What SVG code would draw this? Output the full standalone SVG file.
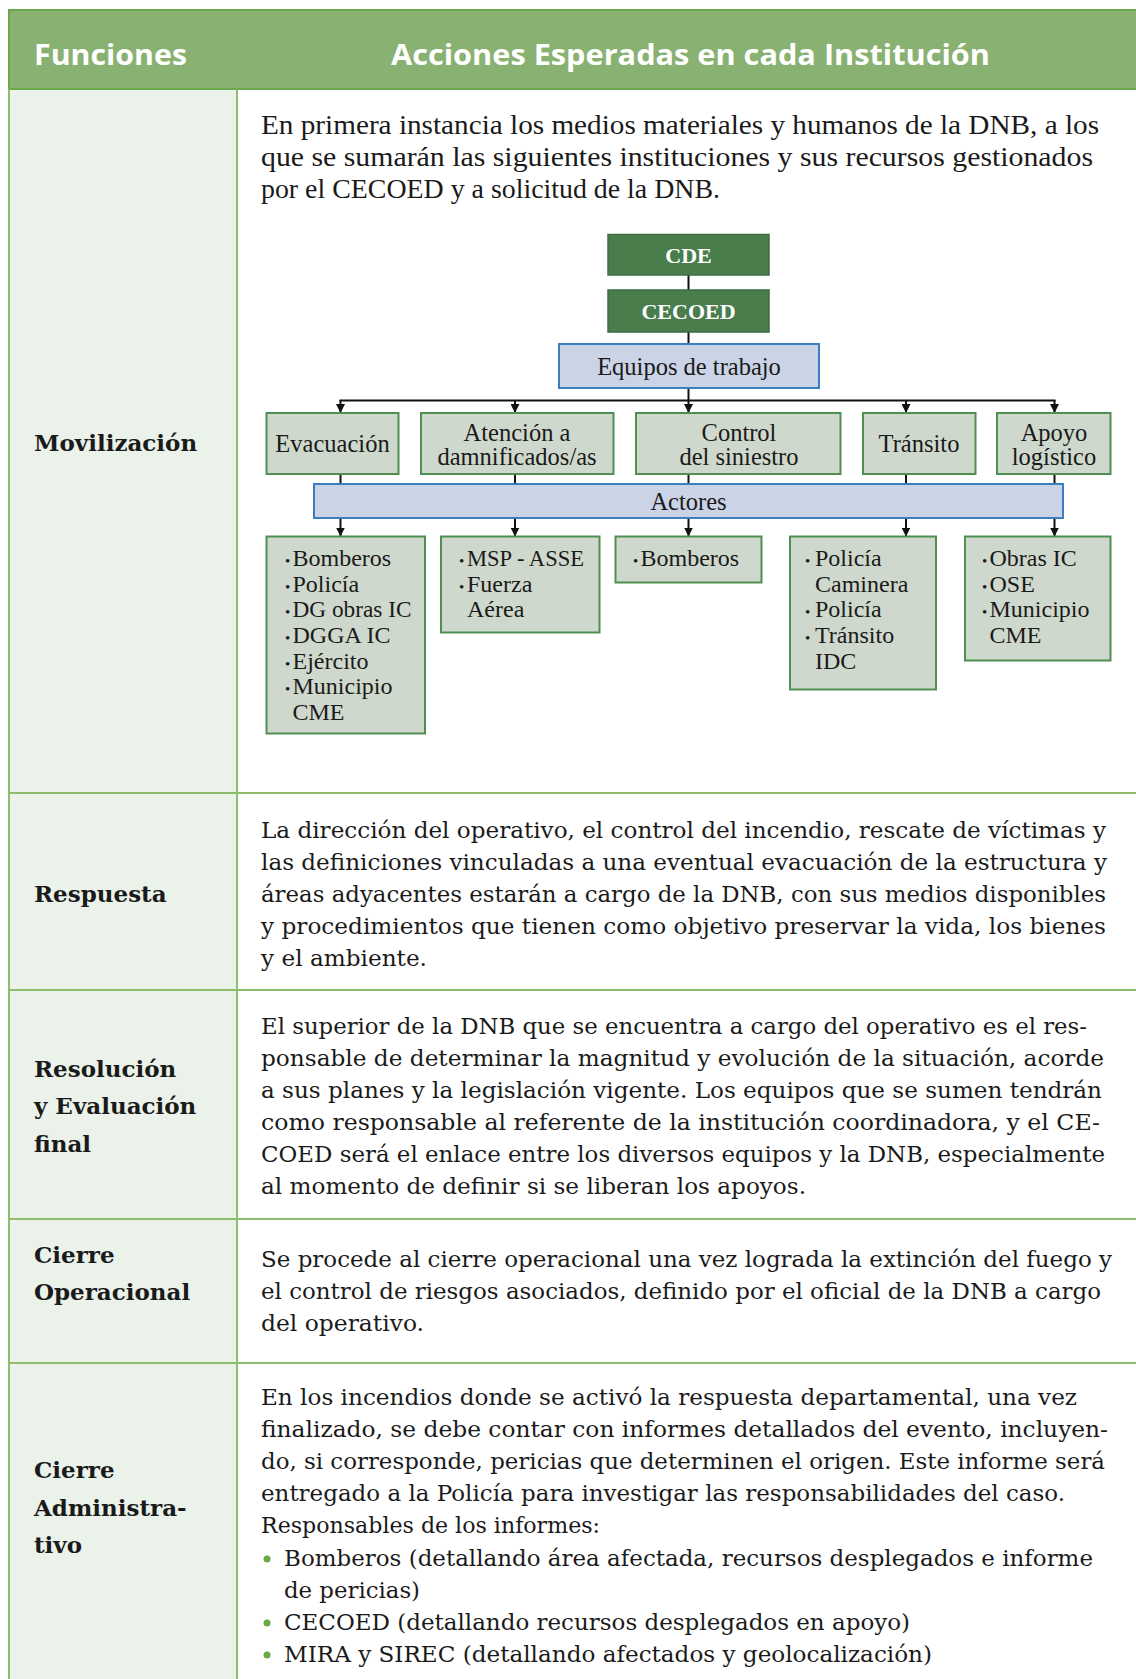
<svg xmlns="http://www.w3.org/2000/svg" width="1136" height="1679" viewBox="0 0 1136 1679">
<defs>
<style>
.hdr{font-family:"Open Sans","Inter",sans-serif;font-weight:700;font-size:29px;fill:#ffffff}
.lbl{font-family:"DejaVu Serif",serif;font-weight:700;font-size:23px;fill:#1a1a1a}
.body{font-family:"DejaVu Serif",serif;font-size:22.5px;fill:#1a1a1a}
.body1{font-family:"Liberation Serif",serif;font-size:27px;fill:#1a1a1a}
.dt{font-family:"Liberation Serif",serif;font-size:24.5px;fill:#1a1a1a}
.at{font-family:"Liberation Serif",serif;font-size:24px;fill:#1a1a1a}
.dtb{font-family:"Liberation Serif",serif;font-size:22px;font-weight:700;fill:#ffffff}
.grid{stroke:#8dbd6d;stroke-width:2;fill:none}
.dark{fill:#4a7d4c;stroke:#3e6d41;stroke-width:1.5}
.blue{fill:#cbd3e6;stroke:#3b7fc1;stroke-width:2}
.cat{fill:#cfd8cc;stroke:#4f8f52;stroke-width:2}
.con{stroke:#111;stroke-width:2;fill:none}
.bul{fill:#6aaa45}
</style>
<marker id="arr" viewBox="0 0 10 10" refX="10" refY="5" markerWidth="9" markerHeight="9" markerUnits="userSpaceOnUse" orient="auto">
<path d="M0,0 L10,5 L0,10 z" fill="#111"/>
</marker>
</defs>
<rect width="1136" height="1679" fill="#ffffff"/>

<g id="table">
<rect x="9" y="89" width="228" height="1600" fill="#ebf2ea"/>
<rect x="9" y="10" width="1140" height="79" fill="#89b172" stroke="#6ba84c" stroke-width="2"/>
<line class="grid" x1="9" y1="89" x2="9" y2="1679"/>
<line class="grid" x1="237" y1="89" x2="237" y2="1679"/>
<line class="grid" x1="9" y1="793" x2="1136" y2="793"/>
<line class="grid" x1="9" y1="990" x2="1136" y2="990"/>
<line class="grid" x1="9" y1="1219" x2="1136" y2="1219"/>
<line class="grid" x1="9" y1="1363" x2="1136" y2="1363"/>
</g>

<g id="header">
<text class="hdr" x="34" y="65" textLength="153" lengthAdjust="spacingAndGlyphs">Funciones</text>
<text class="hdr" x="391" y="65" textLength="599" lengthAdjust="spacingAndGlyphs">Acciones Esperadas en cada Institución</text>
</g>

<g id="labels">
<text class="lbl" x="34" y="451">Movilización</text>
<text class="lbl" x="34" y="902">Respuesta</text>
<text class="lbl" x="34" y="1077">Resolución</text>
<text class="lbl" x="34" y="1114">y Evaluación</text>
<text class="lbl" x="34" y="1152">final</text>
<text class="lbl" x="34" y="1263">Cierre</text>
<text class="lbl" x="34" y="1300">Operacional</text>
<text class="lbl" x="34" y="1478">Cierre</text>
<text class="lbl" x="34" y="1516">Administra-</text>
<text class="lbl" x="34" y="1553">tivo</text>
</g>

<g id="row1-text">
<text class="body1" x="261" y="134" textLength="838" lengthAdjust="spacingAndGlyphs">En primera instancia los medios materiales y humanos de la DNB, a los</text>
<text class="body1" x="261" y="166" textLength="832" lengthAdjust="spacingAndGlyphs">que se sumarán las siguientes instituciones y sus recursos gestionados</text>
<text class="body1" x="261" y="198" textLength="459" lengthAdjust="spacingAndGlyphs">por el CECOED y a solicitud de la DNB.</text>
</g>

<g id="row2-text">
<text class="body" x="261" y="838" textLength="845" lengthAdjust="spacingAndGlyphs">La dirección del operativo, el control del incendio, rescate de víctimas y</text>
<text class="body" x="261" y="870" textLength="846" lengthAdjust="spacingAndGlyphs">las definiciones vinculadas a una eventual evacuación de la estructura y</text>
<text class="body" x="261" y="902" textLength="845" lengthAdjust="spacingAndGlyphs">áreas adyacentes estarán a cargo de la DNB, con sus medios disponibles</text>
<text class="body" x="261" y="934" textLength="845" lengthAdjust="spacingAndGlyphs">y procedimientos que tienen como objetivo preservar la vida, los bienes</text>
<text class="body" x="261" y="966" textLength="166" lengthAdjust="spacingAndGlyphs">y el ambiente.</text>
</g>

<g id="row3-text">
<text class="body" x="261" y="1034" textLength="826" lengthAdjust="spacingAndGlyphs">El superior de la DNB que se encuentra a cargo del operativo es el res-</text>
<text class="body" x="261" y="1066" textLength="843" lengthAdjust="spacingAndGlyphs">ponsable de determinar la magnitud y evolución de la situación, acorde</text>
<text class="body" x="261" y="1098" textLength="841" lengthAdjust="spacingAndGlyphs">a sus planes y la legislación vigente. Los equipos que se sumen tendrán</text>
<text class="body" x="261" y="1130" textLength="839" lengthAdjust="spacingAndGlyphs">como responsable al referente de la institución coordinadora, y el CE-</text>
<text class="body" x="261" y="1162" textLength="844" lengthAdjust="spacingAndGlyphs">COED será el enlace entre los diversos equipos y la DNB, especialmente</text>
<text class="body" x="261" y="1194" textLength="545" lengthAdjust="spacingAndGlyphs">al momento de definir si se liberan los apoyos.</text>
</g>

<g id="row4-text">
<text class="body" x="261" y="1267" textLength="851" lengthAdjust="spacingAndGlyphs">Se procede al cierre operacional una vez lograda la extinción del fuego y</text>
<text class="body" x="261" y="1299" textLength="840" lengthAdjust="spacingAndGlyphs">el control de riesgos asociados, definido por el oficial de la DNB a cargo</text>
<text class="body" x="261" y="1331" textLength="163" lengthAdjust="spacingAndGlyphs">del operativo.</text>
</g>

<g id="row5-text">
<text class="body" x="261" y="1405" textLength="816" lengthAdjust="spacingAndGlyphs">En los incendios donde se activó la respuesta departamental, una vez</text>
<text class="body" x="261" y="1437" textLength="847" lengthAdjust="spacingAndGlyphs">finalizado, se debe contar con informes detallados del evento, incluyen-</text>
<text class="body" x="261" y="1469" textLength="844" lengthAdjust="spacingAndGlyphs">do, si corresponde, pericias que determinen el origen. Este informe será</text>
<text class="body" x="261" y="1501" textLength="804" lengthAdjust="spacingAndGlyphs">entregado a la Policía para investigar las responsabilidades del caso.</text>
<text class="body" x="261" y="1533" textLength="339" lengthAdjust="spacingAndGlyphs">Responsables de los informes:</text>
<circle class="bul" cx="267" cy="1559" r="3.5"/>
<text class="body" x="284" y="1566" textLength="809" lengthAdjust="spacingAndGlyphs">Bomberos (detallando área afectada, recursos desplegados e informe</text>
<text class="body" x="284" y="1598" textLength="136" lengthAdjust="spacingAndGlyphs">de pericias)</text>
<circle class="bul" cx="267" cy="1623" r="3.5"/>
<text class="body" x="284" y="1630" textLength="626" lengthAdjust="spacingAndGlyphs">CECOED (detallando recursos desplegados en apoyo)</text>
<circle class="bul" cx="267" cy="1655" r="3.5"/>
<text class="body" x="284" y="1662" textLength="648" lengthAdjust="spacingAndGlyphs">MIRA y SIREC (detallando afectados y geolocalización)</text>
</g>

<g id="connectors">
<line class="con" x1="688.5" y1="275" x2="688.5" y2="290"/>
<line class="con" x1="688.5" y1="332" x2="688.5" y2="344"/>
<line class="con" x1="688.5" y1="388" x2="688.5" y2="400.5"/>
<line class="con" x1="339.5" y1="400.5" x2="1055.5" y2="400.5"/>
<line class="con" x1="340.5" y1="400" x2="340.5" y2="413" marker-end="url(#arr)"/>
<line class="con" x1="515" y1="400" x2="515" y2="413" marker-end="url(#arr)"/>
<line class="con" x1="688.5" y1="400" x2="688.5" y2="413" marker-end="url(#arr)"/>
<line class="con" x1="906" y1="400" x2="906" y2="413" marker-end="url(#arr)"/>
<line class="con" x1="1054.5" y1="400" x2="1054.5" y2="413" marker-end="url(#arr)"/>
<line class="con" x1="340.5" y1="474" x2="340.5" y2="484"/>
<line class="con" x1="515" y1="474" x2="515" y2="484"/>
<line class="con" x1="688.5" y1="474" x2="688.5" y2="484"/>
<line class="con" x1="906" y1="474" x2="906" y2="484"/>
<line class="con" x1="1054.5" y1="474" x2="1054.5" y2="484"/>
<line class="con" x1="340.5" y1="518" x2="340.5" y2="536.5" marker-end="url(#arr)"/>
<line class="con" x1="515" y1="518" x2="515" y2="536.5" marker-end="url(#arr)"/>
<line class="con" x1="688.5" y1="518" x2="688.5" y2="536.5" marker-end="url(#arr)"/>
<line class="con" x1="906" y1="518" x2="906" y2="536.5" marker-end="url(#arr)"/>
<line class="con" x1="1054.5" y1="518" x2="1054.5" y2="536.5" marker-end="url(#arr)"/>
</g>

<g id="node-cde">
<rect class="dark" x="608" y="234.5" width="161" height="40.5"/>
<text class="dtb" x="688.5" y="263" text-anchor="middle">CDE</text>
</g>
<g id="node-cecoed">
<rect class="dark" x="608" y="290" width="161" height="42"/>
<text class="dtb" x="688.5" y="319" text-anchor="middle">CECOED</text>
</g>
<g id="node-equipos">
<rect class="blue" x="559" y="344" width="260" height="44"/>
<text class="dt" x="689" y="375" text-anchor="middle" font-size="25">Equipos de trabajo</text>
</g>

<g id="node-evacuacion">
<rect class="cat" x="266.5" y="413" width="132" height="61"/>
<text class="dt" x="332.5" y="452" text-anchor="middle">Evacuación</text>
</g>
<g id="node-atencion">
<rect class="cat" x="421" y="413" width="192.5" height="61"/>
<text class="dt" x="517" y="440.5" text-anchor="middle">Atención a</text>
<text class="dt" x="517" y="465" text-anchor="middle">damnificados/as</text>
</g>
<g id="node-control">
<rect class="cat" x="636" y="413" width="204.5" height="61"/>
<text class="dt" x="739" y="440.5" text-anchor="middle">Control</text>
<text class="dt" x="739" y="465" text-anchor="middle">del siniestro</text>
</g>
<g id="node-transito">
<rect class="cat" x="863" y="413" width="112.5" height="61"/>
<text class="dt" x="919" y="452" text-anchor="middle">Tránsito</text>
</g>
<g id="node-apoyo">
<rect class="cat" x="997" y="413" width="113.5" height="61"/>
<text class="dt" x="1054" y="440.5" text-anchor="middle">Apoyo</text>
<text class="dt" x="1054" y="465" text-anchor="middle">logístico</text>
</g>

<g id="node-actores">
<rect class="blue" x="314" y="484" width="749" height="34"/>
<text class="dt" x="688.5" y="510" text-anchor="middle">Actores</text>
</g>

<g id="node-actores-evacuacion">
<rect class="cat" x="266.5" y="536.5" width="158.5" height="197"/>
<text class="at"><tspan x="285" y="566" font-size="15">•</tspan><tspan x="292.5" y="566">Bomberos</tspan></text>
<text class="at"><tspan x="285" y="591.6" font-size="15">•</tspan><tspan x="292.5" y="591.6">Policía</tspan></text>
<text class="at"><tspan x="285" y="617.3" font-size="15">•</tspan><tspan x="292.5" y="617.3" textLength="119" lengthAdjust="spacingAndGlyphs">DG obras IC</tspan></text>
<text class="at"><tspan x="285" y="643" font-size="15">•</tspan><tspan x="292.5" y="643">DGGA IC</tspan></text>
<text class="at"><tspan x="285" y="668.7" font-size="15">•</tspan><tspan x="292.5" y="668.7">Ejército</tspan></text>
<text class="at"><tspan x="285" y="694.4" font-size="15">•</tspan><tspan x="292.5" y="694.4">Municipio</tspan></text>
<text class="at" x="292.5" y="720">CME</text>
</g>
<g id="node-actores-atencion">
<rect class="cat" x="441" y="536.5" width="158.5" height="96"/>
<text class="at"><tspan x="459" y="566" font-size="15">•</tspan><tspan x="467" y="566" textLength="117" lengthAdjust="spacingAndGlyphs">MSP - ASSE</tspan></text>
<text class="at"><tspan x="459" y="591.6" font-size="15">•</tspan><tspan x="467" y="591.6">Fuerza</tspan></text>
<text class="at" x="467" y="617.3">Aérea</text>
</g>
<g id="node-actores-control">
<rect class="cat" x="615.5" y="536.5" width="146" height="46"/>
<text class="at"><tspan x="633" y="566" font-size="15">•</tspan><tspan x="640.5" y="566">Bomberos</tspan></text>
</g>
<g id="node-actores-transito">
<rect class="cat" x="790" y="536.5" width="146" height="153"/>
<text class="at"><tspan x="805" y="566" font-size="15">•</tspan><tspan x="815" y="566">Policía</tspan></text>
<text class="at" x="815" y="591.6">Caminera</text>
<text class="at"><tspan x="805" y="617.3" font-size="15">•</tspan><tspan x="815" y="617.3">Policía</tspan></text>
<text class="at"><tspan x="805" y="643" font-size="15">•</tspan><tspan x="815" y="643">Tránsito</tspan></text>
<text class="at" x="815" y="668.7">IDC</text>
</g>
<g id="node-actores-apoyo">
<rect class="cat" x="965" y="536.5" width="145.5" height="124"/>
<text class="at"><tspan x="982" y="566" font-size="15">•</tspan><tspan x="989.5" y="566">Obras IC</tspan></text>
<text class="at"><tspan x="982" y="591.6" font-size="15">•</tspan><tspan x="989.5" y="591.6">OSE</tspan></text>
<text class="at"><tspan x="982" y="617.3" font-size="15">•</tspan><tspan x="989.5" y="617.3">Municipio</tspan></text>
<text class="at" x="989.5" y="643">CME</text>
</g>
</svg>
